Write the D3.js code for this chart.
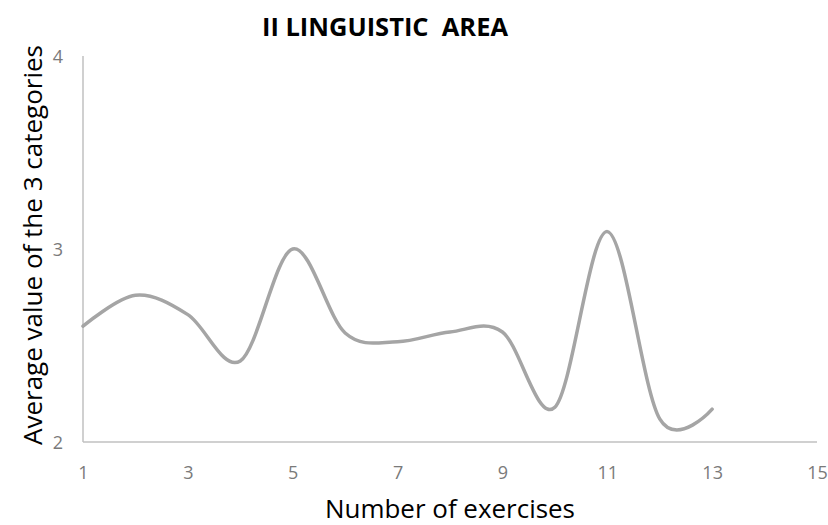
<!DOCTYPE html>
<html>
<head>
<meta charset="utf-8">
<script src="https://cdn.jsdelivr.net/npm/d3@7"></script>
<style>
  html, body { margin: 0; padding: 0; background: #fff; }
  svg { display: block; }
</style>
</head>
<body>
<svg id="chart" width="828" height="525"></svg>
<script>
const exercises = [1, 2, 3, 4, 5, 6, 7, 8, 9, 10, 11, 12, 13];
const averages = [2.6, 2.76, 2.66, 2.42, 3.0, 2.565, 2.52, 2.57, 2.57, 2.18, 3.09, 2.12, 2.17];
const xTicks = [1, 3, 5, 7, 9, 11, 13, 15];
const yTicks = [2, 3, 4];
const titleText = "II LINGUISTIC  AREA";
const xTitleText = "Number of exercises";
const yTitleText = "Average value of the 3 categories";

const svg = d3.select("#chart");
const x = d3.scaleLinear().domain([1, 15]).range([83, 817]);
const y = d3.scaleLinear().domain([2, 4]).range([442, 56]);

const data = exercises.map((e, i) => ({ x: e, y: averages[i] }));

// axes lines
svg.append("line")
  .attr("x1", x(1)).attr("x2", x(1))
  .attr("y1", y(4)).attr("y2", y(2))
  .attr("stroke", "#c0c0c0").attr("stroke-width", 1.5);
svg.append("line")
  .attr("x1", x(1)).attr("x2", x(15))
  .attr("y1", y(2)).attr("y2", y(2))
  .attr("stroke", "#c0c0c0").attr("stroke-width", 1.5);

// x tick labels
const xAxis = d3.axisBottom(x).tickValues(xTicks).tickSize(0).tickPadding(0).tickFormat(d3.format("d"));
const gx = svg.append("g").attr("transform", `translate(0,${y(2)})`).call(xAxis);
gx.select(".domain").remove();
gx.selectAll("text")
  .attr("y", 37).attr("dy", null)
  .attr("font-family", "'Open Sans', sans-serif")
  .attr("font-size", 18)
  .attr("fill", "#7a7a7a");

// y tick labels
const yAxis = d3.axisLeft(y).tickValues(yTicks).tickSize(0).tickPadding(0).tickFormat(d3.format("d"));
const gy = svg.append("g").attr("transform", `translate(${x(1)},0)`).call(yAxis);
gy.select(".domain").remove();
gy.selectAll("text")
  .attr("x", -20).attr("dy", "0.36em")
  .attr("text-anchor", "end")
  .attr("font-family", "'Open Sans', sans-serif")
  .attr("font-size", 18)
  .attr("fill", "#7a7a7a");

// line
const line = d3.line()
  .x(d => x(d.x))
  .y(d => y(d.y))
  .curve(d3.curveCardinal.tension(0));
svg.append("path")
  .datum(data)
  .attr("d", line)
  .attr("fill", "none")
  .attr("stroke", "#a5a5a5")
  .attr("stroke-width", 3.5)
  .attr("stroke-linecap", "round")
  .attr("stroke-linejoin", "round");

// title
svg.append("text")
  .attr("x", 385).attr("y", 36)
  .attr("text-anchor", "middle")
  .attr("font-family", "'Open Sans', sans-serif")
  .attr("font-weight", "bold")
  .attr("font-size", 25)
  .attr("fill", "#000")
  .attr("textLength", 246)
  .attr("lengthAdjust", "spacingAndGlyphs")
  .style("white-space", "pre")
  .text(titleText);

// x title
svg.append("text")
  .attr("x", 450).attr("y", 518)
  .attr("text-anchor", "middle")
  .attr("font-family", "'Open Sans', sans-serif")
  .attr("font-size", 25)
  .attr("fill", "#000")
  .attr("textLength", 250)
  .attr("lengthAdjust", "spacingAndGlyphs")
  .text(xTitleText);

// y title
svg.append("text")
  .attr("transform", "translate(42,245) rotate(-90)")
  .attr("text-anchor", "middle")
  .attr("font-family", "'Open Sans', sans-serif")
  .attr("font-size", 25)
  .attr("fill", "#000")
  .attr("textLength", 400)
  .attr("lengthAdjust", "spacingAndGlyphs")
  .text(yTitleText);
</script>
</body>
</html>
